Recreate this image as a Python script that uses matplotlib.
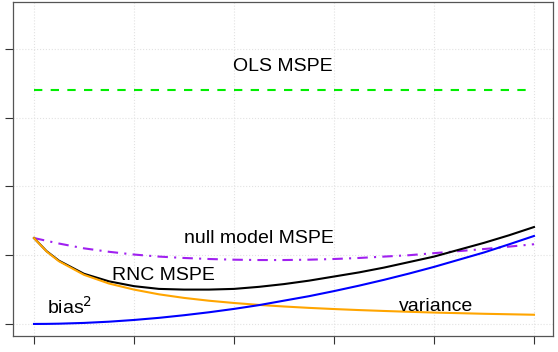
import numpy as np
import matplotlib
matplotlib.use('Agg')
from matplotlib import pyplot as plt

plt.rcParams['font.family'] = ['Liberation Sans', 'DejaVu Sans']

# values
x = [0, 0.125, 0.25, 0.5, 0.75, 1, 1.25, 1.5, 1.75, 2, 2.25, 2.5,
     2.75, 3, 3.25, 3.5, 3.75, 4, 4.25, 4.5, 4.75, 5]
variance = [1.25, 1.056, 0.912, 0.715, 0.588, 0.50, 0.431, 0.379, 0.338, 0.305, 0.277,
            0.254, 0.234, 0.217, 0.202, 0.189, 0.177, 0.166, 0.157, 0.148, 0.141, 0.134]
bias2 = [0, 0.001, 0.004, 0.015, 0.033, 0.058, 0.089, 0.127, 0.170, 0.219, 0.274,
         0.339, 0.404, 0.478, 0.557, 0.642, 0.733, 0.83, 0.935, 1.04, 1.158, 1.28]
rnc_mspe = [1.25, 1.06, 0.92, 0.73, 0.62, 0.55, 0.51, 0.50, 0.50, 0.51, 0.54,
            0.58, 0.63, 0.69, 0.75, 0.82, 0.90, 0.98, 1.08, 1.18, 1.29, 1.41]
null_mspe = [1.25, 1.21, 1.17, 1.10, 1.05, 1.01, 0.98, 0.96, 0.945, 0.935, 0.93,
             0.93, 0.935, 0.945, 0.96, 0.98, 1.00, 1.03, 1.06, 1.09, 1.125, 1.16]
ols_mspe = 3.41

xticks = [0, 1, 2, 3, 4, 5]
yticks = [0, 1, 2, 3, 4]

fig = plt.figure(figsize=(5.58, 3.52), dpi=100)
ax = fig.add_axes([0.0233, 0.0455, 0.9677, 0.9488])

ax.set_xlim(-0.21, 5.19)
ax.set_ylim(-0.175, 4.684)

ax.set_xticks(xticks)
ax.set_yticks(yticks)
ax.set_xticklabels([])
ax.set_yticklabels([])
ax.tick_params(direction='out', length=6, width=0.8, colors='#333333')
for s in ax.spines.values():
    s.set_color('#555555')
    s.set_linewidth(0.9)

# faint dotted grid
ax.grid(True, color='#e2e2e2', linestyle=':', linewidth=0.8)
ax.set_axisbelow(True)

ax.plot([x[0], x[-1]], [ols_mspe, ols_mspe], color='#00ee00', lw=1.5, dashes=(4, 4))
ax.plot(x, null_mspe, color='#a020f0', lw=1.5, dashes=(5, 3, 1, 3))
ax.plot(x, rnc_mspe, color='black', lw=1.5)
ax.plot(x, variance, color='orange', lw=1.5)
ax.plot(x, bias2, color='blue', lw=1.5)

fs = 14
ax.text(2.49, 3.74, 'OLS MSPE', ha='center', va='center', fontsize=fs)
ax.text(2.25, 1.24, 'null model MSPE', ha='center', va='center', fontsize=fs)
ax.text(1.29, 0.70, 'RNC MSPE', ha='center', va='center', fontsize=fs)
ax.text(0.36, 0.25, 'bias$^2$', ha='center', va='center', fontsize=fs)
ax.text(4.02, 0.26, 'variance', ha='center', va='center', fontsize=fs)

fig.savefig('out.png', dpi=100)
